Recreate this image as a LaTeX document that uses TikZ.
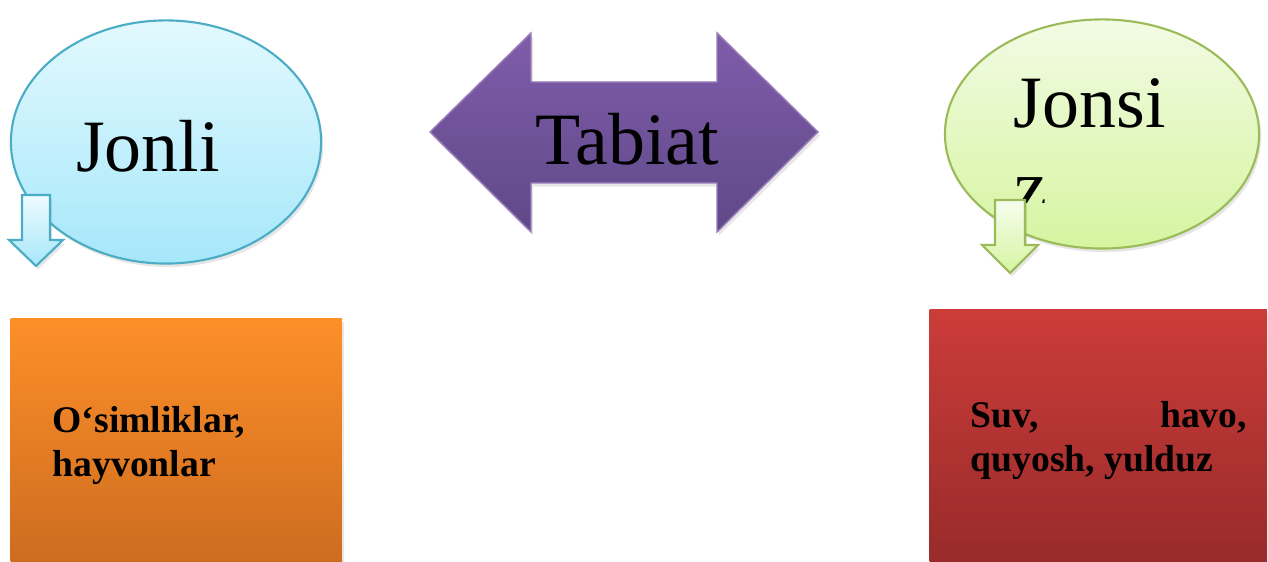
\documentclass[tikz,border=0pt]{standalone}
\usepackage{fontspec}
\setmainfont{Liberation Serif}
\usepackage{tikz}
\usetikzlibrary{shapes.geometric,shadows}

\definecolor{jonliTop}{RGB}{226,249,254}
\definecolor{jonliBot}{RGB}{166,231,250}
\definecolor{jonliLine}{RGB}{75,172,198}
\definecolor{jonsizTop}{RGB}{242,251,228}
\definecolor{jonsizBot}{RGB}{213,245,160}
\definecolor{jonsizLine}{RGB}{155,187,89}
\definecolor{tabiatTop}{RGB}{128,92,170}
\definecolor{tabiatBot}{RGB}{94,73,136}
\definecolor{tirikTop}{RGB}{253,143,40}
\definecolor{tirikBot}{RGB}{205,108,32}
\definecolor{jismTop}{RGB}{204,60,57}
\definecolor{jismBot}{RGB}{152,43,42}

\begin{document}
\begin{tikzpicture}[
    x=0.01cm, y=-0.01cm,
    soya/.style={drop shadow={shadow xshift=0.6pt, shadow yshift=-1pt, opacity=0.2}},
    big/.style={font=\fontsize{21}{25}\selectfont, inner sep=0pt, anchor=base},
    boxtext/.style={font=\fontsize{10.7}{13}\selectfont\bfseries, inner sep=0pt, anchor=base west},
    quti/.style={rectangle, inner sep=0pt, anchor=north west, soya}
]

% Chegara
\useasboundingbox (0,0) rectangle (1268,562);

% Jonli
\node[
    ellipse,
    draw=jonliLine,
    semithick,
    top color=jonliTop,
    bottom color=jonliBot,
    minimum width=3.10cm,
    minimum height=2.43cm,
    soya
] (jonli) at (166,142) {};
\node[big] (jonlimatn) at (148,172) {Jonli};

% Tabiat
\draw[
    tabiatTop!80!white,
    top color=tabiatTop,
    bottom color=tabiatBot,
    soya
] (430,132) -- (531,33) -- (531,82) -- (717,82) -- (717,33) -- (818,132)
    -- (717,232) -- (717,183) -- (531,183) -- (531,232) -- cycle;
\node[big] (tabiat) at (627,165) {Tabiat};

% Jonsiz
\node[
    ellipse,
    draw=jonsizLine,
    semithick,
    top color=jonsizTop,
    bottom color=jonsizBot,
    minimum width=3.14cm,
    minimum height=2.29cm,
    soya
] (jonsiz) at (1102,134) {};
\node[big, anchor=base west] (jonsi) at (1013,128) {Jonsi};
\begin{scope}
    \clip (1000,150) rectangle (1100,203);
    \node[big, anchor=base west] (jonsiz2) at (1014,212) {z.};
\end{scope}

% Pastga strelkalar
\draw[
    jonliLine,
    semithick,
    top color=jonliTop!60!white,
    bottom color=jonliBot,
    soya
] (22,195) -- (50,195) -- (50,240) -- (63,240) -- (36,266) -- (9,240)
    -- (22,240) -- cycle;

\draw[
    jonsizLine,
    semithick,
    top color=jonsizTop!60!white,
    bottom color=jonsizBot,
    soya
] (995,200) -- (1025,200) -- (1025,245) -- (1038,245) -- (1010,273)
    -- (982,245) -- (995,245) -- cycle;

% Qutilar
\node[
    quti,
    top color=tirikTop,
    bottom color=tirikBot,
    minimum width=3.31cm,
    minimum height=2.44cm
] (tirik) at (10,318) {};
\node[boxtext] (tirik1) at (52,433) {O‘simliklar,};
\node[boxtext] (tirik2) at (52,477) {hayvonlar};

\node[
    quti,
    top color=jismTop,
    bottom color=jismBot,
    minimum width=3.37cm,
    minimum height=2.53cm
] (jism) at (929,309) {};
\node[boxtext] (jism1) at (970,428) {\makebox[2.76cm][l]{Suv,\hfill havo,}};
\node[boxtext] (jism2) at (970,472) {quyosh, yulduz};

\end{tikzpicture}
\end{document}
